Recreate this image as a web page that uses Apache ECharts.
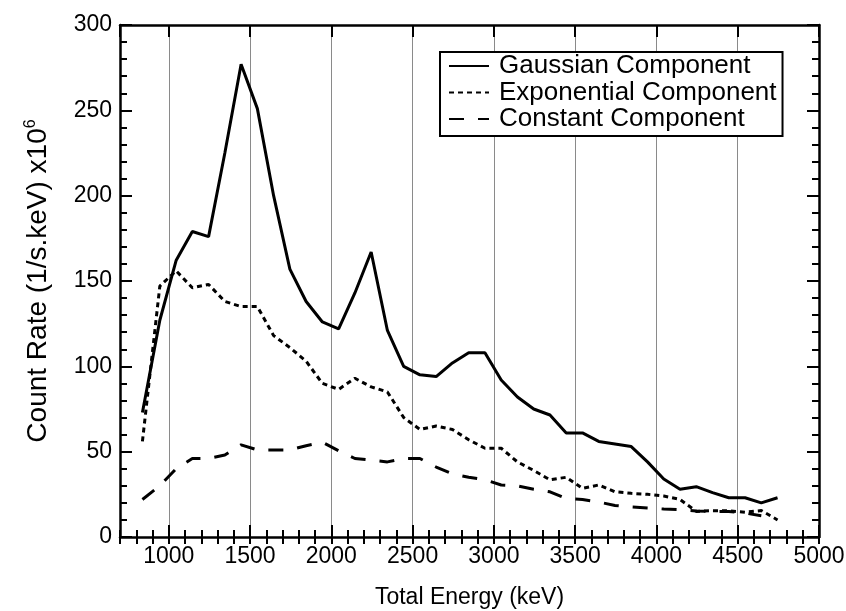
<!DOCTYPE html>
<html>
<head>
<meta charset="utf-8">
<script src="https://cdn.jsdelivr.net/npm/echarts@6/dist/echarts.min.js"></script>
<style>
html,body{margin:0;padding:0;background:#fff;}
#chart{width:846px;height:611px;}
</style>
</head>
<body>
<div id="chart"></div>
<script>
// Data
const energy = [838, 945, 1045, 1145, 1245, 1345, 1445, 1545, 1645, 1745,
  1845, 1945, 2045, 2145, 2245, 2345, 2445, 2545, 2645, 2745,
  2845, 2945, 3045, 3145, 3245, 3345, 3445, 3545, 3645, 3745,
  3845, 3945, 4045, 4145, 4245, 4345, 4445, 4545, 4645, 4745];
const gaussian = [73, 127, 162, 179, 176, 225, 277, 251, 200, 157,
  138, 126, 122, 143, 167, 121, 100, 95, 94, 102,
  108, 108, 92, 82, 75, 71.5, 61, 61, 56, 54.5,
  53, 44, 34, 28, 29.5, 26, 23, 23, 20, 23];
const exponential = [56, 147, 156, 146, 148, 138, 135, 135, 118, 111,
  103, 90, 86.5, 93, 88, 85, 70, 63, 65, 63,
  57, 52, 52, 44, 39, 33.5, 35, 28.5, 30.5, 26.5,
  25.6, 25, 24, 22, 15, 15.4, 15.4, 14.5, 15.5, 10];
const constant = [22, 30, 40, 46, 46, 48, 54, 51, 51, 51,
  53.5, 55.5, 50.5, 46, 45, 44, 46, 46, 41, 37,
  35, 33.5, 30.5, 30, 28, 26.5, 22.5, 22, 20.5, 18.5,
  17.6, 17, 16.4, 16, 15.2, 15, 15, 14, 12.5];
const seriesNames = ['Gaussian Component', 'Exponential Component', 'Constant Component'];
const xMin = 700, xMax = 5000;
const yMin = 0, yMax = 300, yStep = 50;
const xTitle = 'Total Energy (keV)';
const yTitle = 'Count Rate (1/s.keV) x10';

function pairs(xs, ys) { return ys.map((v, i) => [xs[i], v]); }

const FONT = 'Liberation Sans';
const lineW = 2.5;
const majorTick = { show: true, inside: true, length: 12, lineStyle: { color: '#000', width: 2 } };
const minorTickX = { show: true, inside: true, length: 7, lineStyle: { color: '#000', width: 2 } };

const chart = echarts.init(document.getElementById('chart'), null, { renderer: 'canvas' });
chart.setOption({
  animation: false,
  backgroundColor: '#fff',
  textStyle: { fontFamily: FONT },
  grid: { left: 120, right: 27, top: 25, bottom: 74, containLabel: false, outerBoundsMode: 'none' },
  legend: {
    orient: 'vertical',
    left: 440, top: 52,
    data: seriesNames,
    itemWidth: 40, itemHeight: 14, itemGap: 0.5,
    padding: [1, 6, 4, 8],
    borderColor: '#000', borderWidth: 2,
    backgroundColor: '#fff',
    itemStyle: { opacity: 0 },
    textStyle: { fontFamily: FONT, fontSize: 26, lineHeight: 24, color: '#000', padding: [0, 0, 0, 5] }
  },
  xAxis: [
    {
      type: 'value', position: 'bottom', min: xMin, max: xMax, splitNumber: 9,
      axisLine: { show: true, onZero: false, lineStyle: { color: '#000', width: lineW } },
      axisTick: majorTick,
      axisLabel: { show: true, showMinLabel: false, showMaxLabel: true, color: '#000', fontSize: 23, fontFamily: FONT, margin: 8,
        formatter: v => String(v) },
      splitLine: { show: true, showMinLine: false, showMaxLine: false, lineStyle: { color: '#8a8a8a', width: 1 } },
      name: xTitle, nameLocation: 'middle', nameGap: 49,
      nameTextStyle: { color: '#000', fontSize: 23, fontFamily: FONT }
    },
    {
      type: 'value', position: 'bottom', min: xMin, max: xMax, interval: 100,
      axisLine: { show: false }, axisTick: minorTickX, axisLabel: { show: false }, splitLine: { show: false }
    },
    {
      type: 'value', position: 'top', min: xMin, max: xMax, splitNumber: 9,
      axisLine: { show: true, onZero: false, lineStyle: { color: '#000', width: lineW } },
      axisTick: majorTick, axisLabel: { show: false }, splitLine: { show: false }
    },
    {
      type: 'value', position: 'top', min: xMin, max: xMax, interval: 100,
      axisLine: { show: false }, axisTick: minorTickX, axisLabel: { show: false }, splitLine: { show: false }
    }
  ],
  yAxis: [
    {
      type: 'value', position: 'left', min: yMin, max: yMax, interval: yStep,
      axisLine: { show: true, onZero: false, lineStyle: { color: '#000', width: lineW } },
      axisTick: majorTick,
      minorTick: { show: true, splitNumber: 5, length: 7, lineStyle: { color: '#000', width: 2 } },
      axisLabel: { show: true, color: '#000', fontSize: 23, fontFamily: FONT, margin: 8 },
      splitLine: { show: false },
      name: '{a|' + yTitle + '}{b|6}', nameLocation: 'middle', nameGap: 67,
      nameTextStyle: {
        rich: {
          a: { fontSize: 28, fontFamily: FONT, color: '#000', lineHeight: 30 },
          b: { fontSize: 16, fontFamily: FONT, color: '#000', verticalAlign: 'top', lineHeight: 16 }
        }
      }
    },
    {
      type: 'value', position: 'right', min: yMin, max: yMax, interval: yStep,
      axisLine: { show: true, onZero: false, lineStyle: { color: '#000', width: lineW } },
      axisTick: majorTick,
      minorTick: { show: true, splitNumber: 5, length: 7, lineStyle: { color: '#000', width: 2 } },
      axisLabel: { show: false }, splitLine: { show: false }
    }
  ],
  series: [
    {
      name: seriesNames[0], type: 'line', xAxisIndex: 0, yAxisIndex: 0,
      data: pairs(energy, gaussian), symbol: 'none', smooth: false,
      lineStyle: { color: '#000', width: 3, type: 'solid' }, itemStyle: { color: '#000' }
    },
    {
      name: seriesNames[1], type: 'line', xAxisIndex: 0, yAxisIndex: 0,
      data: pairs(energy, exponential), symbol: 'none', smooth: false,
      lineStyle: { color: '#000', width: 3, type: [5, 4] }, itemStyle: { color: '#000' }
    },
    {
      name: seriesNames[2], type: 'line', xAxisIndex: 0, yAxisIndex: 0,
      data: pairs(energy, constant), symbol: 'none', smooth: false,
      lineStyle: { color: '#000', width: 3, type: [15, 14] }, itemStyle: { color: '#000' }
    }
  ]
});
</script>
</body>
</html>
